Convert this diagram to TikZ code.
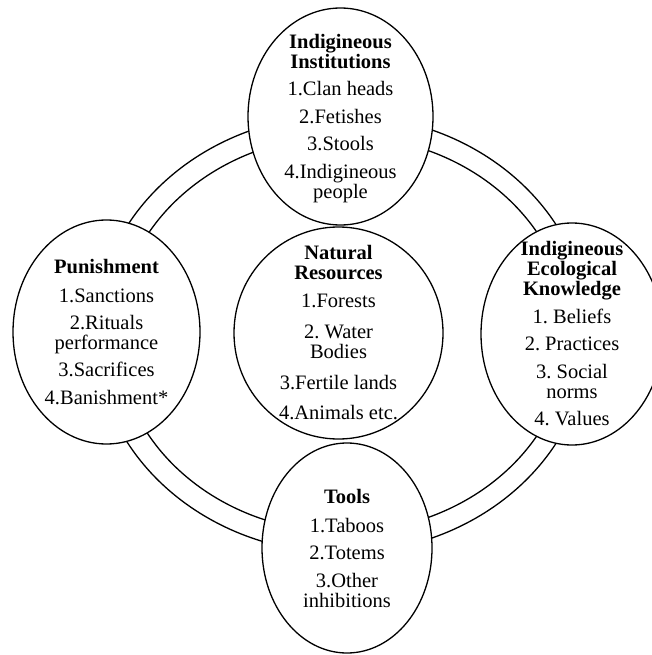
\documentclass[tikz,border=0pt]{standalone}
\usepackage{fontspec}
\setmainfont{Liberation Serif}
\usetikzlibrary{shapes.geometric}
\frenchspacing

\begin{document}
\begin{tikzpicture}[x=1pt, y=-1pt, line width=1.3pt,
  blob/.style={ellipse, draw, fill=white, inner sep=0pt},
  txt/.style={align=center, font=\fontsize{20.5}{20}\selectfont, inner sep=0pt}]

  \useasboundingbox (0,0) rectangle (652,655);

  %ring
  \node[ellipse, draw, minimum width=494pt, minimum height=438pt] (ringout) at (342,334) {};
  \node[ellipse, draw, minimum width=452pt, minimum height=396pt] (ringin) at (343,334) {};

  %ellipses
  \foreach \name/\cx/\cy/\w/\h in {inst/340.5/116.5/185/217, pun/106.5/332/187/224, iek/572/334/182/222, nat/338.5/333/209/212, tool/347/548/170/210}{
    \node[blob, minimum width=\w pt, minimum height=\h pt] (\name) at (\cx,\cy) {};
  }

  %texts
  \node[txt] (instT) at ([yshift=-2pt]inst.center) {\textbf{Indigineous}\\\textbf{Institutions}\\[7.5pt]1.Clan heads\\[7.5pt]2.Fetishes\\[7.5pt]3.Stools\\[7.5pt]4.Indigineous\\people};
  \node[txt] (punT) at (pun.center) {\textbf{Punishment}\\[9pt]1.Sanctions\\[7pt]2.Rituals\\performance\\[7pt]3.Sacrifices\\[8pt]4.Banishment*};
  \node[txt] (iekT) at (iek.center) {\textbf{Indigineous}\\\textbf{Ecological}\\\textbf{Knowledge}\\[8pt]1. Beliefs\\[7pt]2. Practices\\[8pt]3. Social\\norms\\[7pt]4. Values};
  \node[txt] (natT) at (nat.center) {\textbf{Natural}\\\textbf{Resources}\\[8pt]1.Forests\\[11pt]2. Water\\Bodies\\[11pt]3.Fertile lands\\[10pt]4.Animals etc.};
  \node[txt] (toolT) at (tool.center) {\textbf{Tools}\\[9pt]1.Taboos\\[7pt]2.Totems\\[8pt]3.Other\\inhibitions};

\end{tikzpicture}
\end{document}
